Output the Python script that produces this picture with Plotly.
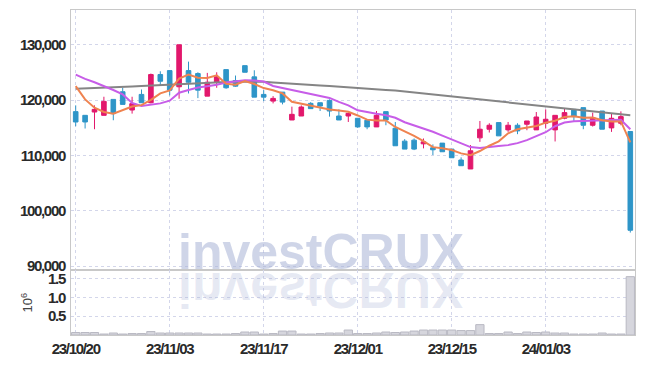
import numpy as np
import plotly.graph_objects as go
from plotly.subplots import make_subplots

dates = [
    "2023-10-20", "2023-10-23", "2023-10-24", "2023-10-25", "2023-10-26", "2023-10-27",
    "2023-10-30", "2023-10-31", "2023-11-01", "2023-11-02", "2023-11-03",
    "2023-11-06", "2023-11-07", "2023-11-08", "2023-11-09", "2023-11-10",
    "2023-11-13", "2023-11-14", "2023-11-15", "2023-11-16", "2023-11-17",
    "2023-11-20", "2023-11-21", "2023-11-22", "2023-11-23", "2023-11-24",
    "2023-11-27", "2023-11-28", "2023-11-29", "2023-11-30", "2023-12-01",
    "2023-12-04", "2023-12-05", "2023-12-06", "2023-12-07", "2023-12-08",
    "2023-12-11", "2023-12-12", "2023-12-13", "2023-12-14", "2023-12-15",
    "2023-12-18", "2023-12-19", "2023-12-20", "2023-12-21", "2023-12-22",
    "2023-12-26", "2023-12-27", "2023-12-28", "2024-01-02", "2024-01-03",
    "2024-01-04", "2024-01-05", "2024-01-08", "2024-01-09", "2024-01-10",
    "2024-01-11", "2024-01-12", "2024-01-15", "2024-01-16",
]

open_ = [117920, 117250, 117850, 117250, 120130, 121510, 118210, 121030, 119530, 124620,
         125330, 122410, 125330, 124800, 120720, 123230, 125510, 123540, 126230, 124200,
         121030, 119820, 121440, 116410, 117130, 119410, 119530, 119950, 117130, 117130,
         116720, 116360, 115160, 117920, 114920, 112590, 112770, 112100, 111390, 112230,
         111150, 109180, 107560, 113180, 114740, 115940, 114620, 115460, 115640, 114620,
         115820, 114620, 116720, 118330, 118640, 115460, 118030, 114980, 115820, 114330]
high = [119050, 117250, 119050, 120610, 120130, 122230, 120610, 121920, 124800, 125210,
        125330, 130000, 126950, 125030, 124920, 125030, 125510, 124440, 126230, 125390,
        121800, 120720, 121440, 118820, 119050, 119640, 119530, 120130, 118330, 117130,
        116720, 116360, 118030, 117920, 116050, 112950, 113070, 113070, 112000, 112230,
        111150, 109660, 111870, 116230, 115820, 115940, 116050, 115820, 116230, 117850,
        118330, 117250, 118460, 118330, 118640, 117740, 118030, 117560, 117970, 114330]
low = [115280, 114870, 114740, 117250, 116360, 119230, 117560, 119530, 119410, 122640,
       120850, 120250, 121200, 120360, 120720, 122230, 122050, 122410, 125030, 120540,
       119820, 119410, 119230, 116410, 117130, 118460, 118030, 117020, 116410, 116050,
       114980, 114740, 115160, 115460, 111750, 111150, 110970, 111280, 110080, 110670,
       109590, 108150, 107560, 112460, 114150, 113540, 114260, 113850, 114560, 114620,
       114870, 112530, 116540, 116230, 114740, 115220, 114740, 114260, 115460, 96070]
close = [116050, 116050, 118330, 119770, 117560, 119230, 119360, 119530, 124620, 123410,
         121800, 130000, 123230, 121800, 123230, 124200, 122230, 122520, 125030, 120540,
         120540, 120310, 119640, 117430, 118750, 118460, 118930, 118030, 116410, 117610,
         115160, 115160, 117250, 116410, 111750, 111150, 111150, 112460, 111030, 110670,
         109590, 108150, 110850, 114740, 115460, 113540, 115460, 114440, 116230, 116950,
         116540, 117250, 117740, 117020, 115460, 116840, 114740, 116720, 117020, 96490]
prior_closes = [128000, 125780, 123720, 119050]

ma20 = [124600, 123840, 123230, 122550, 121830, 121030, 119500, 118930, 119140, 119410,
        119890, 121330, 121830, 122280, 122520, 122770, 123180, 123450, 123590, 123540,
        123360, 122550, 122190, 121830, 121380, 121030, 120760, 120400, 119680, 119050,
        118150, 117790, 117520, 117260, 116810, 116000, 115460, 114920, 114290, 113580,
        112860, 112140, 111510, 111330, 111460, 111690, 111870, 112230, 112770, 113490,
        114200, 115280, 115950, 116180, 116210, 116270, 116320, 116360, 116450, 114740]
ma60 = [122050, 122100, 122160, 122230, 122280, 122370, 122460, 122550, 122640, 122730,
        122820, 122910, 123000, 123090, 123180, 123230, 123270, 123300, 123320, 123320,
        123300, 123180, 123050, 122950, 122820, 122730, 122640, 122550, 122410, 122280,
        122160, 122050, 121920, 121830, 121740, 121560, 121380, 121200, 121030, 120880,
        120760, 120580, 120400, 120220, 120040, 119860, 119680, 119500, 119320, 119140,
        118960, 118780, 118600, 118420, 118240, 118060, 117880, 117700, 117520, 117250]
volume = [66000, 66000, 66000, 26000, 53000, 26000, 39000, 39000, 92000, 53000,
          53000, 53000, 53000, 53000, 26000, 26000, 26000, 39000, 79000, 79000,
          26000, 39000, 105000, 105000, 26000, 26000, 39000, 53000, 53000, 132000,
          39000, 39000, 53000, 79000, 66000, 79000, 105000, 132000, 132000, 132000,
          132000, 118000, 118000, 276000, 39000, 39000, 79000, 39000, 79000, 66000,
          79000, 53000, 53000, 26000, 26000, 26000, 53000, 26000, 26000, 1552000]

price_ticks = [90000, 100000, 110000, 120000, 130000]
vol_ticks = [500000, 1000000, 1500000]
vol_tick_text = ["0.5", "1.0", "1.5"]

# 5-day moving average of closes
all_close = np.array(prior_closes + close, dtype=float)
ma5 = np.convolve(all_close, np.ones(5) / 5, mode="valid")

UP = "#E2186C"
DOWN = "#2E95C8"
GRID = "#d3d6ea"
AXIS = "#c8c8c8"
TICKFONT = dict(family="Liberation Sans, Arial, sans-serif",
                size=15, color="#2a2a2a", weight="bold")

fig = make_subplots(rows=2, cols=1, shared_xaxes=True, vertical_spacing=0,
                    row_heights=[0.801, 0.199])

fig.add_trace(go.Candlestick(
    x=dates, open=open_, high=high, low=low, close=close,
    increasing=dict(line=dict(color=UP, width=1), fillcolor=UP),
    decreasing=dict(line=dict(color=DOWN, width=1), fillcolor=DOWN),
    showlegend=False, hoverinfo="skip"), row=1, col=1)

fig.add_trace(go.Scatter(x=dates, y=ma60, mode="lines",
                         line=dict(color="#858585", width=2), showlegend=False), row=1, col=1)
fig.add_trace(go.Scatter(x=dates, y=ma20, mode="lines",
                         line=dict(color="#C75DE8", width=2), showlegend=False), row=1, col=1)
fig.add_trace(go.Scatter(x=dates, y=ma5, mode="lines",
                         line=dict(color="#EF8350", width=2), showlegend=False), row=1, col=1)

fig.add_trace(go.Bar(x=dates, y=volume, marker=dict(color="#d6d6dd",
                     line=dict(color="#b9b9c3", width=1)), showlegend=False), row=2, col=1)

tickvals = dates[::10]
ticktext = [d[2:].replace("-", "/") for d in tickvals]

fig.update_xaxes(type="category", range=[-0.5, len(dates) - 0.5],
                 rangeslider_visible=False,
                 showgrid=True, gridcolor=GRID, griddash="dot", gridwidth=1,
                 tickvals=tickvals, ticktext=ticktext,
                 showline=True, linecolor=AXIS, linewidth=1, mirror=True,
                 tickfont=TICKFONT, ticks="", zeroline=False)

fig.update_yaxes(range=[89250, 136280], tickvals=price_ticks, tickformat=",",
                 showgrid=True, gridcolor=GRID, griddash="dot", gridwidth=1,
                 showline=True, linecolor=AXIS, linewidth=1, mirror=True,
                 tickfont=TICKFONT, ticks="", zeroline=False, ticklabelstandoff=2,
                 row=1, col=1)
fig.update_yaxes(range=[0, 1720000], tickvals=vol_ticks, ticktext=vol_tick_text,
                 showgrid=True, gridcolor=GRID, griddash="dot", gridwidth=1,
                 showline=True, linecolor=AXIS, linewidth=1, mirror=True,
                 tickfont=TICKFONT, ticks="", zeroline=False, ticklabelstandoff=2,
                 title=dict(text="10<sup>6</sup>", standoff=8,
                            font=dict(family="Liberation Sans, sans-serif", size=13, color="#444444")),
                 row=2, col=1)

wm_font = dict(family="Liberation Sans, Arial, sans-serif", size=50, weight="bold")
fig.add_annotation(text="investCRUX", xref="paper", yref="paper", x=0.443, y=0.254,
                   xanchor="center", yanchor="middle", showarrow=False,
                   font=dict(color="rgba(168,178,214,0.55)", **wm_font))
fig.add_annotation(text="investCRUX", xref="paper", yref="paper", x=0.443, y=0.1376,
                   xanchor="center", yanchor="middle", showarrow=False,
                   font=dict(color="rgba(168,178,214,0.28)", **wm_font))

fig.update_layout(width=645, height=366, margin=dict(l=71, r=9, t=10, b=29),
                  paper_bgcolor="white", plot_bgcolor="white",
                  bargap=0.12, showlegend=False, hovermode=False)

post = """
document.body.style.margin = '0';
document.body.style.overflow = 'hidden';
var st = document.createElement('style');
st.textContent = '.xtick text,.x2tick text,.ytick text,.y2tick text{letter-spacing:-1.3px}';
document.head.appendChild(st);
var gd = document.getElementById('{plot_id}');
var anns = gd.querySelectorAll('g.annotation');
anns.forEach(function(a){
  if (a.getAttribute('data-index') === '1') {
    var t = a.querySelector('text.annotation-text') || a.querySelector('text');
    if (t) {
      t.style.transformBox = 'fill-box';
      t.style.transformOrigin = 'center';
      t.style.transform = 'scaleY(-1)';
    }
  }
});
"""
fig.write_html("out.html", post_script=post, config={"displayModeBar": False})
